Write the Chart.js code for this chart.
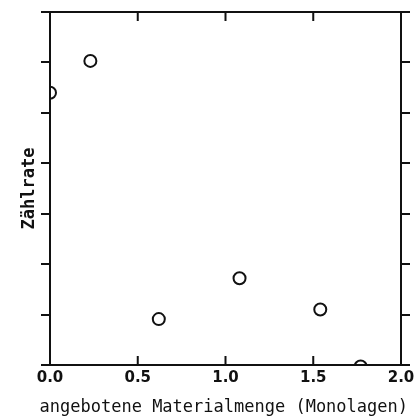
<!DOCTYPE html>
<html lang="de">
<head>
    <meta charset="UTF-8">
    <title>Zählrate</title>
    <script src="https://cdn.jsdelivr.net/npm/chart.js"></script>
    <style>
        html, body { margin: 0; padding: 0; background: #ffffff; overflow: hidden; }
        #wrap { width: 414px; height: 419px; }
        canvas { display: block; }
    </style>
</head>
<body>
<div id="wrap"><canvas id="chart" width="414" height="419"></canvas></div>

<script>
    // Werte
    const menge = [0.0, 0.23, 0.62, 1.08, 1.54, 1.77];      // Monolagen
    const zaehlrate = [5.4, 6.03, 0.91, 1.72, 1.1, -0.03];  // willkürliche Einheiten
    const xTicks = [0.0, 0.5, 1.0, 1.5, 2.0];

    const xTitle = 'angebotene Materialmenge (Monolagen)';
    const yTitle = 'Zählrate';

    const ink = '#111111';
    const monoFont = "'DejaVu Sans Mono', monospace";

    // Kreise am Rand werden wie im Original abgeschnitten
    const clipToArea = {
        id: 'clipToArea',
        beforeDatasetsDraw(chart) {
            const a = chart.chartArea;
            chart.ctx.save();
            chart.ctx.beginPath();
            chart.ctx.rect(a.left, a.top, a.right - a.left, a.bottom - a.top);
            chart.ctx.clip();
        },
        afterDatasetsDraw(chart) {
            chart.ctx.restore();
        }
    };

    // Tickstriche oben und unten zeigen nach innen
    const innerTicks = {
        id: 'innerTicks',
        afterDraw(chart) {
            const ctx = chart.ctx;
            const area = chart.chartArea;
            const sx = chart.scales.x;
            ctx.save();
            ctx.strokeStyle = ink;
            ctx.lineWidth = 2;
            ctx.beginPath();
            xTicks.slice(1, -1).forEach(function(v) {
                const px = sx.getPixelForValue(v);
                ctx.moveTo(px, area.bottom);
                ctx.lineTo(px, area.bottom - 9);
                ctx.moveTo(px, area.top);
                ctx.lineTo(px, area.top + 9);
            });
            ctx.stroke();
            ctx.restore();
        }
    };

    const yAxis = function(pos, width) {
        return {
            type: 'linear',
            position: pos,
            min: 0,
            max: 7,
            ticks: { display: false, stepSize: 1 },
            grid: { drawOnChartArea: false, drawTicks: true, tickLength: 9, color: ink, lineWidth: 2 },
            border: { display: true, color: ink, width: 2 },
            afterFit: function(scale) { scale.width = width; }
        };
    };

    const left = yAxis('left', 50);
    left.title = {
        display: true,
        text: yTitle,
        color: ink,
        font: { family: monoFont, size: 17, weight: 'bold' },
        padding: { top: 19, bottom: 0 }
    };

    new Chart(document.getElementById('chart'), {
        type: 'scatter',
        data: {
            datasets: [{
                data: menge.map(function(x, i) { return { x: x, y: zaehlrate[i] }; }),
                pointStyle: 'circle',
                pointRadius: 6,
                pointBorderWidth: 2,
                pointBorderColor: ink,
                pointBackgroundColor: 'rgba(0,0,0,0)',
                clip: 0
            }]
        },
        options: {
            responsive: false,
            animation: false,
            layout: { padding: { left: 0, right: 6, top: 0, bottom: 0 } },
            plugins: {
                legend: { display: false },
                tooltip: { enabled: false },
                // x-Beschriftung als Titel unten, damit sie nicht gestaucht wird
                title: {
                    display: true,
                    position: 'bottom',
                    align: 'end',
                    text: xTitle,
                    color: ink,
                    font: { family: monoFont, size: 17, weight: 'normal' },
                    padding: { top: 0, bottom: 1 }
                }
            },
            scales: {
                x: {
                    type: 'linear',
                    position: 'bottom',
                    min: 0,
                    max: 2,
                    afterBuildTicks: function(scale) {
                        scale.ticks = xTicks.map(function(v) { return { value: v }; });
                    },
                    ticks: {
                        color: ink,
                        autoSkip: false,
                        maxRotation: 0,
                        padding: 4,
                        font: { family: "'DejaVu Sans'", size: 15, weight: 'bold' },
                        callback: function(v) { return Number(v).toFixed(1); }
                    },
                    grid: { drawOnChartArea: false, drawTicks: false },
                    border: { display: true, color: ink, width: 2 },
                    afterFit: function(scale) {
                        scale.height = 54 - 21.4;
                        scale.paddingLeft = 0;
                        scale.paddingRight = 0;
                    }
                },
                x2: {
                    type: 'linear',
                    position: 'top',
                    min: 0,
                    max: 2,
                    ticks: { display: false },
                    grid: { drawOnChartArea: false, drawTicks: false },
                    border: { display: true, color: ink, width: 2 },
                    afterFit: function(scale) { scale.height = 12; }
                },
                y: left,
                y2: yAxis('right', 7)
            }
        },
        plugins: [clipToArea, innerTicks]
    });
</script>
</body>
</html>
